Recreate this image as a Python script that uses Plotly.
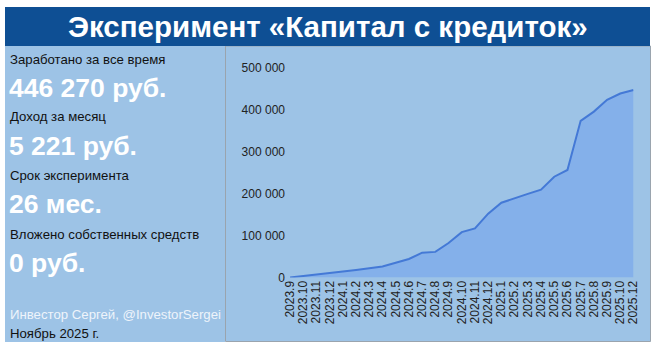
import plotly.graph_objects as go

W, H = 658, 351

months = ["2023.9", "2023.10", "2023.11", "2023.12",
          "2024.1", "2024.2", "2024.3", "2024.4", "2024.5", "2024.6",
          "2024.7", "2024.8", "2024.9", "2024.10", "2024.11", "2024.12",
          "2025.1", "2025.2", "2025.3", "2025.4", "2025.5", "2025.6",
          "2025.7", "2025.8", "2025.9", "2025.10", "2025.12"]
capital = [0, 4000, 8000, 11000, 14500, 18000, 22000, 26000, 35000, 44000,
           59000, 61000, 82000, 108000, 117000, 152000,
           178000, 189000, 199000, 209000, 240000, 256000,
           373000, 395000, 423000, 438000, 446270]

y_ticks = [0, 100000, 200000, 300000, 400000, 500000]
y_tick_labels = ["0", "100 000", "200 000", "300 000", "400 000", "500 000"]

title_text = "Эксперимент «Капитал с кредиток»"
stat_labels = ["Заработано за все время", "Доход за месяц",
               "Срок эксперимента", "Вложено собственных средств"]
stat_values = ["446 270 руб.", "5 221 руб.", "26 мес.", "0 руб."]
author = "Инвестор Сергей, @InvestorSergei"
date_text = "Ноябрь 2025 г."

PANEL = "#9DC3E6"
BAR = "#0E4F94"
LINE = "#4479D6"
FILL = "#84B0EA"
FONT = "Liberation Sans, Arial"


def px(x):
    return x / W


def py(y):
    return 1 - y / H


fig = go.Figure()
fig.add_trace(go.Scatter(
    x=months, y=capital, mode="lines",
    line=dict(color=LINE, width=2),
    fill="tozeroy", fillcolor=FILL,
    hoverinfo="x+y", showlegend=False,
))

shapes = [
    dict(type="rect", xref="paper", yref="paper", x0=px(5), x1=px(225), y0=py(342), y1=py(46),
         fillcolor=PANEL, line=dict(width=0), layer="below"),
    dict(type="rect", xref="paper", yref="paper", x0=px(225.5), x1=px(650.5), y0=py(341.5), y1=py(46),
         fillcolor=PANEL, line=dict(color="#9AA4AE", width=1), layer="below"),
    dict(type="rect", xref="paper", yref="paper", x0=px(5), x1=px(650), y0=py(46), y1=py(7),
         fillcolor=BAR, line=dict(width=0), layer="below"),
]

annotations = [
    dict(text=f"<b>{title_text}</b>", x=px(328), y=py(27), xref="paper", yref="paper",
         showarrow=False, xanchor="center", yanchor="middle",
         font=dict(family=FONT, size=29.5, color="white")),
]

label_y = [59, 117, 175, 234]
value_y = [87.5, 146, 203.5, 263]
for lab, ly, val, vy in zip(stat_labels, label_y, stat_values, value_y):
    annotations.append(dict(text=lab, x=px(8), y=py(ly), xref="paper", yref="paper",
                            showarrow=False, xanchor="left", yanchor="middle",
                            font=dict(family=FONT, size=13.2, color="#111111")))
    annotations.append(dict(text=f"<b>{val}</b>", x=px(7), y=py(vy), xref="paper", yref="paper",
                            showarrow=False, xanchor="left", yanchor="middle",
                            font=dict(family=FONT, size=26.5, color="white")))

annotations.append(dict(text=author, x=px(8), y=py(314), xref="paper", yref="paper",
                        showarrow=False, xanchor="left", yanchor="middle",
                        font=dict(family=FONT, size=13.2, color="#EEF4FB")))
annotations.append(dict(text=date_text, x=px(8), y=py(333), xref="paper", yref="paper",
                        showarrow=False, xanchor="left", yanchor="middle",
                        font=dict(family=FONT, size=13.2, color="#111111")))

fig.update_layout(
    template="none",
    width=W, height=H,
    margin=dict(l=0, r=0, t=0, b=0, pad=0, autoexpand=False),
    paper_bgcolor="white",
    plot_bgcolor="rgba(0,0,0,0)",
    shapes=shapes,
    annotations=annotations,
    font=dict(family=FONT, color="#222222"),
    xaxis=dict(domain=[px(290), px(633.5)], type="category", range=[0, len(months) - 1],
               tickmode="array", tickvals=months, ticktext=months, automargin=False,
               tickangle=-90, showgrid=False, zeroline=False, showline=False, ticks="",
               tickfont=dict(size=12, color="#222222"), fixedrange=True),
    yaxis=dict(domain=[py(277.5), py(67.5)], range=[0, 500000], tickvals=y_ticks,
               ticktext=y_tick_labels, showgrid=False, zeroline=False, showline=False,
               automargin=False, ticks="", ticklabelstandoff=4,
               tickfont=dict(size=12, color="#222222"), fixedrange=True),
)

fig.write_html("out.html",
               post_script="document.body.style.margin='0';document.body.style.overflow='hidden';")
